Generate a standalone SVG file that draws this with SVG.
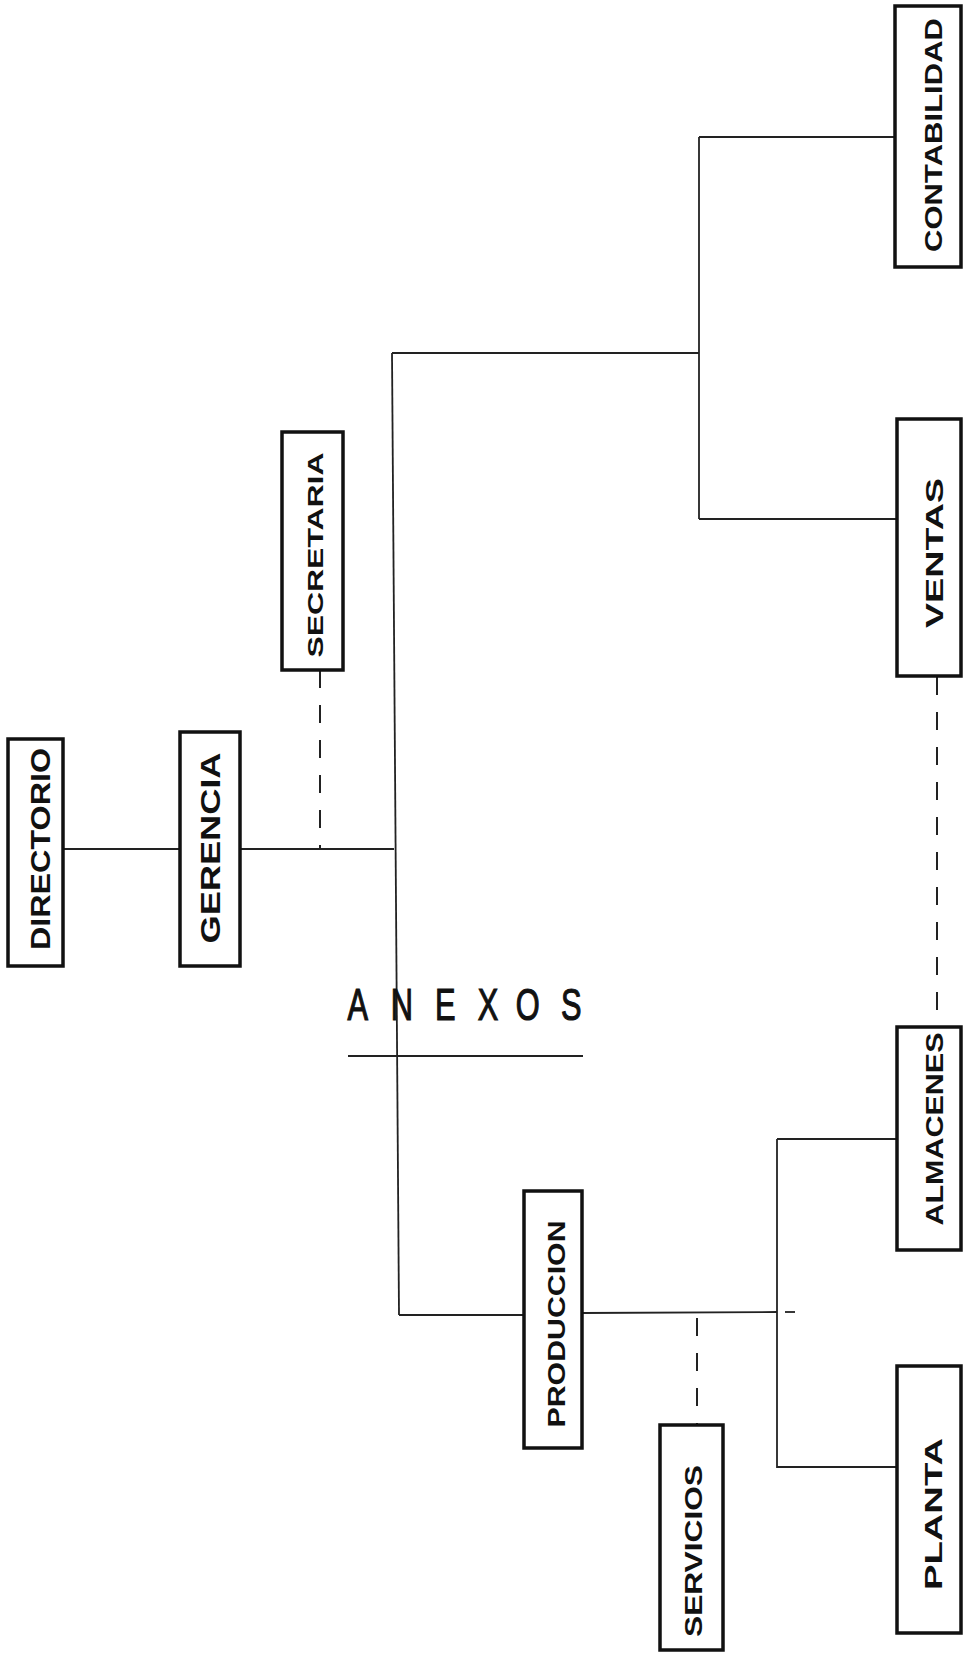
<svg xmlns="http://www.w3.org/2000/svg" width="963" height="1655" viewBox="0 0 963 1655">
<style>
.box{fill:#fff;stroke:#111;stroke-width:3.5}
.ln{fill:none;stroke:#222;stroke-width:1.8}
.dash{fill:none;stroke:#222;stroke-width:2;stroke-dasharray:18 17}
.lbl{font-family:"Liberation Sans",Arial,sans-serif;font-weight:bold;fill:#111;text-anchor:middle}
.anx{font-family:"Liberation Sans",Arial,sans-serif;font-size:44px;fill:#111;stroke:#111;stroke-width:1.2;text-anchor:middle}
</style>
<rect width="963" height="1655" fill="#fff"/>
<g id="connectors">
<line class="ln" x1="63" y1="849" x2="180" y2="849"/>
<line class="ln" x1="240" y1="849" x2="394" y2="849"/>
<line class="dash" x1="320" y1="670" x2="320" y2="849"/>
<line class="ln" x1="392" y1="353" x2="399" y2="1315"/>
<line class="ln" x1="392" y1="353" x2="699" y2="353"/>
<line class="ln" x1="699" y1="137" x2="699" y2="519"/>
<line class="ln" x1="699" y1="137" x2="895" y2="137"/>
<line class="ln" x1="699" y1="519" x2="897" y2="519"/>
<line class="dash" x1="937" y1="677" x2="937" y2="1029"/>
<line class="ln" x1="399" y1="1315" x2="524" y2="1315"/>
<line class="ln" x1="582" y1="1313" x2="777" y2="1312"/>
<line class="ln" x1="785" y1="1312" x2="795" y2="1312"/>
<line class="dash" x1="697" y1="1318" x2="697" y2="1425"/>
<line class="ln" x1="777" y1="1139" x2="777" y2="1468"/>
<line class="ln" x1="777" y1="1139" x2="897" y2="1139"/>
<line class="ln" x1="777" y1="1467" x2="897" y2="1467"/>
</g>
<g id="anexos">
<text class="anx" transform="scale(0.7,1)"><tspan x="511" y="1020">A</tspan><tspan x="574" y="1020">N</tspan><tspan x="636" y="1020">E</tspan><tspan x="697" y="1020">X</tspan><tspan x="754" y="1020">O</tspan><tspan x="816" y="1020">S</tspan></text>
<line x1="348" y1="1056" x2="583" y2="1056" stroke="#222" stroke-width="2"/>
</g>
<g id="directorio">
<rect class="box" x="8" y="739" width="55" height="227"/>
<text class="lbl" font-size="27" textLength="202" lengthAdjust="spacingAndGlyphs" transform="translate(50,849) rotate(-90)">DIRECTORIO</text>
</g>
<g id="gerencia">
<rect class="box" x="180" y="732" width="60" height="234"/>
<text class="lbl" font-size="27" textLength="191" lengthAdjust="spacingAndGlyphs" transform="translate(220,848) rotate(-90)">GERENCIA</text>
</g>
<g id="secretaria">
<rect class="box" x="282" y="432" width="61" height="238"/>
<text class="lbl" font-size="22" textLength="205" lengthAdjust="spacingAndGlyphs" transform="translate(323,555) rotate(-90)">SECRETARIA</text>
</g>
<g id="contabilidad">
<rect class="box" x="895" y="6" width="66" height="261"/>
<text class="lbl" font-size="23" textLength="234" lengthAdjust="spacingAndGlyphs" transform="translate(942,135) rotate(-90)">CONTABILIDAD</text>
</g>
<g id="ventas">
<rect class="box" x="897" y="419" width="64" height="257"/>
<text class="lbl" font-size="23" textLength="150" lengthAdjust="spacingAndGlyphs" transform="translate(943,553) rotate(-90)">VENTAS</text>
</g>
<g id="almacenes">
<rect class="box" x="897" y="1027" width="64" height="223"/>
<text class="lbl" font-size="23" textLength="193" lengthAdjust="spacingAndGlyphs" transform="translate(943,1129) rotate(-90)">ALMACENES</text>
</g>
<g id="planta">
<rect class="box" x="897" y="1366" width="64" height="267"/>
<text class="lbl" font-size="24" textLength="152" lengthAdjust="spacingAndGlyphs" transform="translate(942,1514) rotate(-90)">PLANTA</text>
</g>
<g id="produccion">
<rect class="box" x="524" y="1191" width="58" height="257"/>
<text class="lbl" font-size="23" textLength="207" lengthAdjust="spacingAndGlyphs" transform="translate(565,1324) rotate(-90)">PRODUCCION</text>
</g>
<g id="servicios">
<rect class="box" x="660" y="1425" width="63" height="225"/>
<text class="lbl" font-size="24" textLength="172" lengthAdjust="spacingAndGlyphs" transform="translate(702,1551) rotate(-90)">SERVICIOS</text>
</g>
</svg>
